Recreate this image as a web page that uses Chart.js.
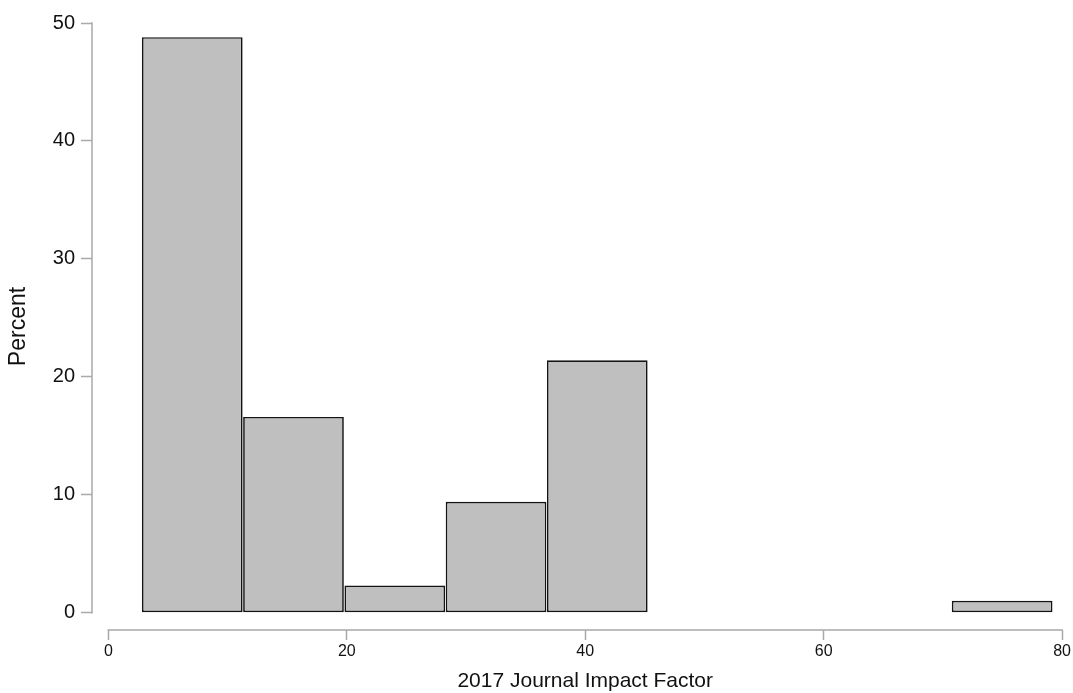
<!DOCTYPE html>
<html>
<head>
<meta charset="utf-8">
<script src="https://cdn.jsdelivr.net/npm/chart.js@4.4.1/dist/chart.umd.min.js"></script>
<style>
  html, body { margin: 0; padding: 0; background: #ffffff; }
  canvas { display: block; }
</style>
</head>
<body>
<canvas id="chart" width="1073" height="693"></canvas>
<script>
// Histogram: share of journals (percent) per impact-factor bin
const binCenters = [7.04, 15.53, 24.03, 32.52, 41.01, 74.97];
const percent = [48.8, 16.6, 2.3, 9.4, 21.4, 1.0];
const xTicks = [0, 20, 40, 60, 80];
const yTicks = [0, 10, 20, 30, 40, 50];
const xTitle = '2017 Journal Impact Factor';
const yTitle = 'Percent';

const FONT = "'Liberation Sans', Arial, Helvetica, sans-serif";
const AXIS = '#a9a9a9';
const TEXT = '#111111';

// Axis lines that run only between the first and last tick,
// plus the x-axis title centred under that tick range
const axisDecor = {
  id: 'axisDecor',
  afterDraw(chart) {
    const { ctx, chartArea, scales: { x, y } } = chart;
    const x0 = x.getPixelForValue(xTicks[0]);
    const x1 = x.getPixelForValue(xTicks[xTicks.length - 1]);
    ctx.save();
    ctx.strokeStyle = AXIS;
    ctx.lineWidth = 1.5;
    ctx.beginPath();
    ctx.moveTo(chartArea.left, y.getPixelForValue(yTicks[0]) + 0.75);
    ctx.lineTo(chartArea.left, y.getPixelForValue(yTicks[yTicks.length - 1]) - 0.75);
    ctx.moveTo(x0 - 0.75, chartArea.bottom);
    ctx.lineTo(x1 + 0.75, chartArea.bottom);
    ctx.stroke();

    ctx.fillStyle = TEXT;
    ctx.font = '21px ' + FONT;
    ctx.textAlign = 'center';
    ctx.textBaseline = 'middle';
    ctx.fillText(xTitle, (x0 + x1) / 2, chartArea.bottom + 51);
    ctx.restore();
  }
};

new Chart(document.getElementById('chart'), {
  type: 'bar',
  data: {
    datasets: [{
      data: binCenters.map((c, i) => ({ x: c, y: percent[i] })),
      backgroundColor: '#bfbfbf',
      borderColor: '#141414',
      borderWidth: 1.7,
      borderSkipped: false,
      barPercentage: 0.995,
      categoryPercentage: 1
    }]
  },
  options: {
    responsive: false,
    devicePixelRatio: 1,
    animation: false,
    layout: { padding: { top: 23, right: 10, bottom: 0, left: 0 } },
    plugins: {
      legend: { display: false },
      tooltip: { enabled: false }
    },
    scales: {
      x: {
        type: 'linear',
        min: -1.37,
        max: 80,
        offset: false,
        afterBuildTicks: s => { s.ticks = xTicks.map(v => ({ value: v })); },
        afterFit: s => { s.height = 63; },
        border: { display: false },
        grid: { offset: false, drawOnChartArea: false, drawTicks: true, tickLength: 10, tickColor: AXIS, tickWidth: 1.5 },
        ticks: { font: { family: FONT, size: 16 }, color: TEXT, padding: 2, maxRotation: 0, autoSkip: false },
        title: { display: false }
      },
      y: {
        type: 'linear',
        min: -1.47,
        max: 50,
        afterBuildTicks: s => { s.ticks = yTicks.map(v => ({ value: v })); },
        afterFit: s => { s.width = 92; },
        border: { display: false },
        grid: { offset: false, drawOnChartArea: false, drawTicks: true, tickLength: 11, tickColor: AXIS, tickWidth: 1.5 },
        ticks: { font: { family: FONT, size: 20 }, color: TEXT, padding: 6, autoSkip: false },
        title: { display: true, text: yTitle, font: { family: FONT, size: 23 }, color: TEXT, padding: { top: 5, bottom: 0 } }
      }
    }
  },
  plugins: [axisDecor]
});
</script>
</body>
</html>
